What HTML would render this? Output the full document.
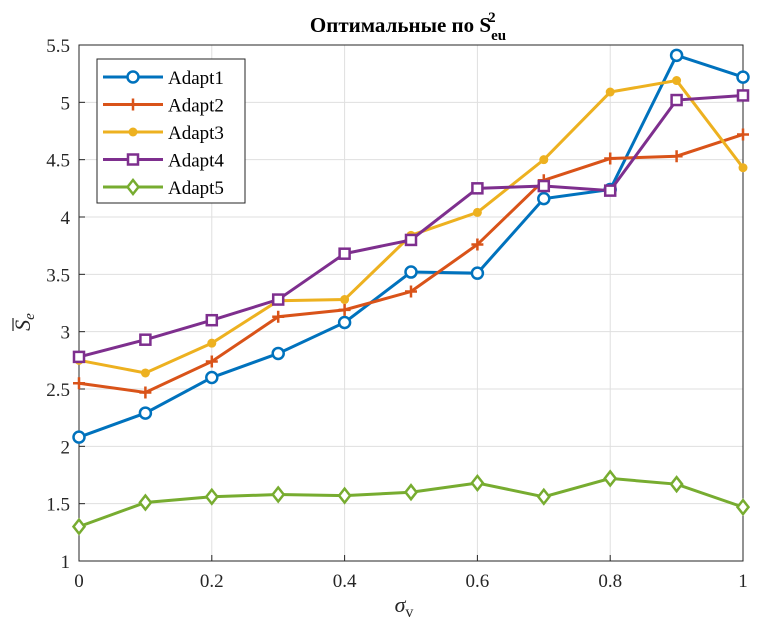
<!DOCTYPE html>
<html><head><meta charset="utf-8"><style>
body{margin:0;background:#fff}
svg text{font-family:"Liberation Serif",serif;fill:#262626}
</style></head><body>
<svg id="chart" width="762" height="637" xmlns="http://www.w3.org/2000/svg">
<g id="grid"></g>
<rect x="79" y="45" width="664" height="516" fill="none" stroke="#262626" stroke-width="1"/>
<g id="ticks"></g>
<g id="series"></g>
<text x="408" y="32" text-anchor="middle" font-size="21" font-weight="bold" style="fill:#000">Оптимальные по S<tspan font-size="15" dy="8">eu</tspan><tspan font-size="15" dx="-18" dy="-18">2</tspan></text>
<text x="404" y="612" text-anchor="middle" font-size="22" font-style="italic">σ<tspan font-size="16" dy="5" font-style="normal">v</tspan></text>
<g transform="translate(30,322) rotate(-90)"><text x="0" y="0" text-anchor="middle" font-size="22" font-style="italic">S<tspan font-size="15" dy="4">e</tspan></text><line x1="-9" y1="-17" x2="4" y2="-17" stroke="#262626" stroke-width="1.2"/></g>
<g id="legend"></g>
</svg>
<script>
const xValues=[0,0.1,0.2,0.3,0.4,0.5,0.6,0.7,0.8,0.9,1];
const adapt1=[2.08,2.29,2.60,2.81,3.08,3.52,3.51,4.16,4.24,5.41,5.22];
const adapt2=[2.55,2.47,2.74,3.13,3.19,3.35,3.76,4.32,4.51,4.53,4.72];
const adapt3=[2.75,2.64,2.90,3.27,3.28,3.84,4.04,4.50,5.09,5.19,4.43];
const adapt4=[2.78,2.93,3.10,3.28,3.68,3.80,4.25,4.27,4.23,5.02,5.06];
const adapt5=[1.30,1.51,1.56,1.58,1.57,1.60,1.68,1.56,1.72,1.67,1.47];
const xTicks=[0,0.2,0.4,0.6,0.8,1];
const xTickLabels=["0","0.2","0.4","0.6","0.8","1"];
const yTicks=[1,1.5,2,2.5,3,3.5,4,4.5,5,5.5];
const yTickLabels=["1","1.5","2","2.5","3","3.5","4","4.5","5","5.5"];
const seriesNames=["Adapt1","Adapt2","Adapt3","Adapt4","Adapt5"];
const ns="http://www.w3.org/2000/svg";
const L=79,R=743,T=45,B=561;
function xs(v){return L+(v-0)/(1-0)*(R-L);}
function ys(v){return B-(v-1)/(5.5-1)*(B-T);}
function mk(tag,attrs,parent){const e=document.createElementNS(ns,tag);for(const k in attrs)e.setAttribute(k,attrs[k]);parent.appendChild(e);return e;}
const grid=document.getElementById('grid'),ticks=document.getElementById('ticks');
xTicks.forEach((t,i)=>{const x=xs(t);
 let g=mk('line',{x1:x,x2:x,y1:T,y2:B,stroke:'#dfdfdf','stroke-width':1},grid);
 
 let tk=mk('line',{x1:x,x2:x,y1:B,y2:B-6,stroke:'#262626'},ticks);
 
 let tx=mk('text',{x:x,y:B+26,'text-anchor':'middle','font-size':19},ticks);tx.textContent=xTickLabels[i];
 });
yTicks.forEach((t,i)=>{const y=ys(t);
 let g=mk('line',{x1:L,x2:R,y1:y,y2:y,stroke:'#dfdfdf','stroke-width':1},grid);
 
 let tk=mk('line',{x1:L,x2:L+6,y1:y,y2:y,stroke:'#262626'},ticks);
 
 let tx=mk('text',{x:L-9,y:y+7,'text-anchor':'end','font-size':19},ticks);tx.textContent=yTickLabels[i];
 });
const colors=['#0072bd','#d95319','#edb120','#7e2f8e','#77ac30'];
const markers=['circle','plus','dot','square','diamond'];
function marker(type,x,y,c,p){
 let e;
 if(type==='circle')e=mk('circle',{cx:x,cy:y,r:5.5,fill:'#fff',stroke:c,'stroke-width':2.5},p);
 else if(type==='plus')e=mk('path',{d:`M${x-6} ${y}H${x+6}M${x} ${y-6}V${y+6}`,stroke:c,'stroke-width':2.5},p);
 else if(type==='dot')e=mk('circle',{cx:x,cy:y,r:4.5,fill:c},p);
 else if(type==='square')e=mk('rect',{x:x-5,y:y-5,width:10,height:10,fill:'#fff',stroke:c,'stroke-width':2.5},p);
 else e=mk('path',{d:`M${x} ${y-7}L${x+5.5} ${y}L${x} ${y+7}L${x-5.5} ${y}Z`,fill:'#fff',stroke:c,'stroke-width':2.5},p);
 return e;}
const data=[adapt1,adapt2,adapt3,adapt4,adapt5];
const sg=document.getElementById('series');
data.forEach((vals,si)=>{
 const g=mk('g',{},sg);
 
 
 const pts=vals.map((v,i)=>xs(xValues[i])+','+ys(v)).join(' ');
 const pl=mk('polyline',{points:pts,fill:'none',stroke:colors[si],'stroke-width':3},g);
 
 
 vals.forEach((v,i)=>{const m=marker(markers[si],xs(xValues[i]),ys(v),colors[si],g);
  
  });
});
const lg=document.getElementById('legend');
const box=mk('rect',{x:97,y:59,width:148,height:144,fill:'#fff',stroke:'#262626','stroke-width':1},lg);

seriesNames.forEach((n,i)=>{const y=77+i*27.5;
 const g=mk('g',{},lg);
 
 
 mk('line',{x1:103,x2:163,y1:y,y2:y,stroke:colors[i],'stroke-width':3},g);
 marker(markers[i],133,y,colors[i],g);
 const t=mk('text',{x:168,y:y+7,'font-size':19},g);t.textContent=n;t.style.fill='#000';});
</script>
</body></html>
